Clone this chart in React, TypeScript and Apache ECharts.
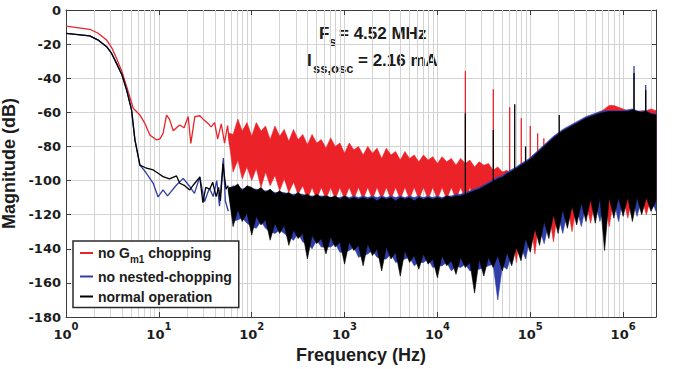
import React, { useEffect, useRef } from "react";
import * as echarts from "echarts";

// ---------- data ----------
const redLowFreq = [1, 1.8, 2.2, 2.74, 3.1, 3.5, 4, 4.5, 5.3, 6.25, 7, 8, 9.45, 10.3, 11.1, 12.1, 13, 14.3, 15.5, 16.8, 18.7, 20.7, 22.1, 24.4, 27.6, 30, 33.9, 36.5, 39.8, 43, 47, 51, 55, 58];
const redLowDb = [-9.4, -11.3, -13.5, -17.6, -22, -28.3, -36, -45, -57.6, -61.6, -66, -73.3, -76.2, -75.5, -72.3, -61.6, -64, -70.8, -69, -67.4, -69, -62.5, -78.2, -62.5, -62, -64, -66.5, -68.5, -66, -75.6, -66.8, -78, -67.8, -79];

const blueLowFreq = [1, 1.8, 2.2, 2.74, 3.1, 3.5, 4, 4.5, 5.08, 5.52, 6.25, 7.2, 8.7, 9.8, 11.1, 12.4, 15.5, 18.3, 21.5, 24.2, 27.6, 31, 35, 38.5, 42, 45, 49.5, 52, 56];
const blueLowDb = [-13.7, -15.2, -17.5, -21.5, -25.5, -31.3, -38, -47, -58.6, -76, -91, -95, -101.6, -109.6, -105.5, -109, -102.6, -98.7, -103.5, -107.5, -97.7, -112.4, -104.5, -109.4, -100, -115, -86.8, -112, -118];

const blackLowFreq = [1, 1.8, 2.2, 2.74, 3.1, 3.5, 4, 4.5, 5.08, 5.52, 6.25, 7.2, 8.7, 10, 11.1, 13, 15.5, 16.8, 19, 21.5, 24, 27.6, 29.8, 32, 35.4, 38, 41.4, 44, 46, 49.2, 51, 53, 56];
const blackLowDb = [-13.7, -15.2, -17.5, -21.5, -25.5, -31.3, -38, -47, -58.6, -76, -91, -92.5, -93.8, -96, -97.7, -99, -97.3, -101.6, -103, -105.5, -102, -98, -113, -104, -105, -101, -109.4, -104, -112, -90, -98, -105, -103];

// dense noise region: envelope of each trace (Hz, dB)
const noiseFreq = [56, 63, 71, 79, 89, 100, 112, 126, 141, 158, 178, 200, 224, 251, 282, 316, 355, 398, 447, 501, 562, 631, 708, 794, 891, 1000, 1122, 1259, 1413, 1585, 1778, 1995, 2239, 2512, 2818, 3162, 3548, 3981, 4467, 5012, 5623, 6310, 7079, 7943, 8913, 10000, 11220, 12589, 14125, 15849, 17783, 19953, 22387, 25119, 28184, 31623, 35481, 39811, 44668, 50119, 56234, 63096, 70795, 79433, 89125, 100000, 112202, 125893, 141254, 158489, 177828, 199526, 223872, 251189, 281838, 316228, 354813, 398107, 446684, 501187, 562341, 630957, 707946, 794328, 891251, 1000000, 1122018, 1258925, 1412538, 1584893, 1778279, 1995262, 2260000];

const redUpper = [
  -72, -73, -64, -71, -66, -74, -66, -71, -68, -76,
  -68, -74, -70, -77, -70, -76, -73, -79, -73, -78,
  -76, -81, -75, -80, -78, -84, -78, -82, -80, -85,
  -80, -84, -81, -87, -81, -85, -83, -88, -83, -87,
  -85, -89, -85, -88, -86, -90, -86, -89, -87, -91,
  -87, -90, -88, -92, -89, -91, -90, -94, -92, -95,
  -94, -97, -95, -97, -94, -95, -91, -90, -86, -84,
  -80, -78, -74, -72, -70, -68, -66, -65, -63, -62,
  -60, -58, -56, -56, -57, -58, -59, -60, -60, -59,
  -59, -58, -59];
const redLower = [
  -74, -95, -88, -99, -92, -100, -93, -104, -95, -103,
  -97, -106, -99, -107, -101, -108, -103, -111, -104, -111,
  -104, -111, -104, -111, -104, -111, -104, -111, -104, -111,
  -104, -111, -104, -111, -104, -111, -104, -111, -104, -111,
  -104, -111, -104, -111, -104, -111, -104, -111, -104, -111,
  -104, -111, -104, -111, -104, -111, -104, -111, -104, -118,
  -139, -128, -148, -126, -130, -122, -143, -120, -122, -118,
  -136, -116, -118, -114, -130, -113, -114, -112, -125, -111,
  -111, -110, -127, -110, -110, -110, -122, -110, -110, -110,
  -120, -110, -112];

const blueUpper = [
  -105, -103, -104, -105, -104, -105, -105, -106, -106, -106,
  -107, -107, -107, -108, -108, -108, -108, -109, -109, -109,
  -109, -109, -110, -110, -110, -109, -110, -109, -110, -109,
  -110, -109, -110, -109, -110, -109, -110, -109, -110, -109,
  -110, -109, -110, -109, -110, -109, -110, -109, -109, -108,
  -108, -107, -106, -105, -104, -102.5, -101, -99.5, -98, -97,
  -95, -93.5, -92, -90, -88.5, -86.5, -84, -81.5, -79, -76.5,
  -74, -72, -70, -68.5, -67, -65.5, -64, -62.5, -61.5, -60.5,
  -59.5, -59, -59, -59, -59, -59, -58.5, -58, -59, -59.5,
  -59, -60.5, -61];
const blueLower = [
  -106, -124, -123, -122, -125, -127, -128, -124, -128, -130,
  -131, -129, -131, -133, -135, -131, -136, -137, -140, -135,
  -139, -139, -139, -137, -142, -142, -141, -139, -145, -144,
  -143, -141, -145, -146, -146, -143, -148, -147, -146, -145,
  -150, -148, -148, -146, -151, -150, -150, -148, -153, -150,
  -151, -149, -153, -152, -152, -151, -150, -149, -170, -150,
  -152, -143, -140, -139, -146, -133, -130, -128, -137, -124,
  -121, -120, -131, -118, -116, -116, -127, -114, -112, -112,
  -124, -112, -111, -111, -124, -111, -111, -111, -121, -111,
  -111, -111, -118];

const blackUpper = [
  -104, -104, -102, -106, -103, -104, -106, -104, -107, -105,
  -108, -106, -108, -107, -109, -107, -109, -108, -110, -108,
  -110, -109, -110, -109, -111, -109, -111, -110, -111, -110,
  -111, -110, -112, -110, -111, -110, -112, -110, -111, -110,
  -112, -110, -111, -110, -111, -110, -111, -109, -110, -109,
  -109, -108, -107, -106, -105, -103.5, -102, -100.5, -99, -98,
  -96, -94.5, -93, -91, -89.5, -87.5, -85, -82.5, -80, -77.5,
  -75, -73, -71, -69.5, -68, -66.5, -65, -63.5, -62.5, -61.5,
  -60.5, -60, -59.5, -59.5, -59.5, -59.5, -59.5, -58.5, -59.5, -60,
  -59.5, -61, -61.5];
const blackLower = [
  -106, -127, -117, -124, -119, -132, -121, -126, -123, -135,
  -125, -131, -126, -138, -129, -134, -131, -146, -132, -137,
  -134, -143, -133, -139, -136, -149, -136, -141, -138, -150,
  -137, -144, -140, -153, -139, -146, -142, -156, -141, -148,
  -144, -152, -143, -149, -146, -157, -144, -150, -147, -155,
  -145, -151, -148, -166, -146, -156, -145, -151, -144, -153,
  -142, -150, -139, -147, -134, -142, -128, -138, -124, -134,
  -120, -131, -117, -128, -115, -126, -113, -124, -111, -125,
  -110, -141, -110, -122, -110, -121, -110, -124, -110, -120,
  -110, -118, -112];

// discrete tones (Hz, peak dB, foot dB)
const redToneFreq = [20000, 40000, 60000, 80000, 100000, 120000, 140000];
const redToneTop = [-35.8, -46.5, -57, -63.5, -68, -72.3, -75.2];
const redToneBase = [-95, -97, -97, -97, -95, -91, -86];
const blueToneFreq = [1310000, 1750000];
const blueToneTop = [-32.8, -44];
const blueToneBase = [-62, -62];
const blackToneFreq = [20000, 40000, 68000, 89000, 205000, 1310000, 1750000];
const blackToneTop = [-60.6, -70.4, -55.3, -80, -61.6, -37, -47];
const blackToneBase = [-112, -104, -98, -92, -78, -62, -62];

const seriesNames = ["no Gm1 chopping", "no nested-chopping", "normal operation"];
const yTicks = { min: -180, max: 0, step: 20 };
const xRange = { min: 1, max: 2.26e6 };

// ---------- styling ----------
const FONT = 'Arial, "Liberation Sans", Helvetica, sans-serif';
const TFONT = '"DejaVu Sans", Verdana, sans-serif';
const RED = "#ec2229";
const BLUE = "#2f3ea8";
const BLACK = "#000000";
const GRID = "#d3d3d3";
const FRAME = "#3c3c3c";
const TXT = "#1c1c1c";

function pairs(f: number[], v: number[]) {
  return f.map((x, i) => [x, v[i]]);
}

function bandSeries(name: string, upper: number[], lower: number[], color: string) {
  return {
    type: "custom",
    name,
    silent: true,
    data: noiseFreq.map((f, i) => [f, upper[i], lower[i]]),
    encode: { x: 0, y: [1, 2] },
    renderItem: (params: any, api: any) => {
      if (params.dataIndex !== 0) return null;
      const top = noiseFreq.map((f, i) => api.coord([f, upper[i]]));
      const bot = noiseFreq.map((f, i) => api.coord([f, lower[i]])).reverse();
      return {
        type: "polygon",
        shape: { points: top.concat(bot) },
        style: { fill: color, stroke: color, lineWidth: 0.6 },
      };
    },
  };
}

function toneSeries(name: string, freqs: number[], tops: number[], bases: number[], color: string) {
  return {
    type: "custom",
    name,
    silent: true,
    data: freqs.map((f, i) => [f, tops[i], bases[i]]),
    encode: { x: 0, y: [1, 2] },
    renderItem: (params: any, api: any) => {
      const p1 = api.coord([api.value(0), api.value(1)]);
      const p2 = api.coord([api.value(0), api.value(2)]);
      return {
        type: "line",
        shape: { x1: p1[0], y1: p1[1], x2: p2[0], y2: p2[1] },
        style: { stroke: color, lineWidth: 1.3 },
      };
    },
  };
}

function lineSeries(name: string, f: number[], v: number[], color: string) {
  return {
    type: "line",
    name,
    color,
    data: pairs(f, v),
    showSymbol: false,
    symbol: "none",
    silent: true,
    lineStyle: { color, width: 1.3 },
  };
}

function annoText(x: number, y: number, text: string, size: number) {
  return {
    type: "text",
    x,
    y,
    style: {
      text,
      font: `bold ${size}px ${FONT}`,
      fill: TXT,
      align: "left",
      textAlign: "left",
      verticalAlign: "middle",
      textVerticalAlign: "middle",
    },
  };
}

export default function App() {
  const ref = useRef<HTMLDivElement>(null);

  useEffect(() => {
    document.body.style.margin = "0";
    const chart = echarts.init(ref.current as HTMLDivElement, null, { renderer: "svg" });

    const minorGrid: number[] = [];
    for (let d = 0; d <= 6; d++) {
      for (let m = 2; m <= 9; m++) {
        const v = m * Math.pow(10, d);
        if (v < xRange.max) minorGrid.push(v);
      }
    }

    const xLabel = (v: number) => {
      const e = Math.log10(v);
      const r = Math.round(e);
      if (Math.abs(e - r) > 1e-6) return "";
      return `{b|10}{s|${r}}`;
    };

    const option: any = {
      animation: false,
      backgroundColor: "#ffffff",
      grid: { left: 66, right: 17, top: 10, bottom: 52, containLabel: false, outerBoundsMode: "none" },
      xAxis: [
        {
          type: "log",
          logBase: 10,
          min: xRange.min,
          max: xRange.max,
          splitNumber: 6,
          axisLine: { show: true, onZero: false, lineStyle: { color: FRAME, width: 1 } },
          axisTick: { show: true, inside: true, length: 5, lineStyle: { color: FRAME } },
          axisLabel: {
            margin: 4,
            formatter: xLabel,
            rich: {
              b: { fontSize: 13, fontWeight: "bold", fontFamily: TFONT, color: TXT },
              s: { fontSize: 10, fontWeight: "bold", fontFamily: TFONT, color: TXT, padding: [0, 0, 17, 0] },
            },
          },
          splitLine: { show: true, lineStyle: { color: GRID, width: 1 } },
          name: "Frequency (Hz)",
          nameLocation: "middle",
          nameGap: 25,
          nameTextStyle: { fontSize: 18, fontWeight: "bold", fontFamily: FONT, color: TXT, verticalAlign: "top" },
        },
        {
          type: "log",
          logBase: 10,
          min: xRange.min,
          max: xRange.max,
          splitNumber: 6,
          position: "top",
          axisLine: { show: true, onZero: false, lineStyle: { color: FRAME, width: 1 } },
          axisTick: { show: true, inside: true, length: 5, lineStyle: { color: FRAME } },
          axisLabel: { show: false },
          splitLine: { show: false },
        },
      ],
      yAxis: [
        {
          type: "value",
          min: yTicks.min,
          max: yTicks.max,
          interval: yTicks.step,
          axisLine: { show: true, onZero: false, lineStyle: { color: FRAME, width: 1 } },
          axisTick: { show: true, inside: true, length: 5, lineStyle: { color: FRAME } },
          axisLabel: { margin: 5, fontSize: 13, fontWeight: "bold", fontFamily: TFONT, color: TXT },
          splitLine: { show: true, lineStyle: { color: GRID, width: 1 } },
          name: "Magnitude (dB)",
          nameLocation: "middle",
          nameGap: 38,
          nameTextStyle: { fontSize: 18, fontWeight: "bold", fontFamily: FONT, color: TXT },
        },
        {
          type: "value",
          min: yTicks.min,
          max: yTicks.max,
          interval: yTicks.step,
          position: "right",
          axisLine: { show: true, onZero: false, lineStyle: { color: FRAME, width: 1 } },
          axisTick: { show: true, inside: true, length: 5, lineStyle: { color: FRAME } },
          axisLabel: { show: false },
          splitLine: { show: false },
        },
      ],
      legend: {
        data: seriesNames.map((n) => ({ name: n })),
        orient: "vertical",
        left: 73,
        top: 241,
        icon: "rect",
        itemWidth: 13,
        itemHeight: 2,
        itemGap: 4,
        padding: [4, 7, 3, 7],
        borderColor: "#2a2a2a",
        borderWidth: 1.5,
        backgroundColor: "#ffffff",
        selectedMode: false,
        formatter: (name: string) => (name === seriesNames[0] ? "no G{sub|m1} chopping" : name),
        textStyle: {
          fontSize: 14,
          fontWeight: "bold",
          fontFamily: FONT,
          color: TXT,
          lineHeight: 16,
          rich: {
            sub: { fontSize: 10, fontWeight: "bold", fontFamily: FONT, color: TXT, padding: [13, 0, 0, 0] },
          },
        },
      },
      graphic: [
        annoText(319, 33, "F", 17),
        annoText(329, 41, "s", 13),
        annoText(339, 33, "= 4.52 MHz", 17),
        annoText(307, 60, "I", 17),
        annoText(313, 68, "ss,osc", 13),
        annoText(358, 60, "= 2.16 mA", 17),
      ],
      series: [
        {
          type: "line",
          name: "minor-grid",
          data: [],
          silent: true,
          z: 1,
          markLine: {
            silent: true,
            z: 1,
            symbol: ["none", "none"],
            label: { show: false },
            lineStyle: { color: GRID, width: 1, type: "solid" },
            animation: false,
            data: minorGrid.map((v) => ({ xAxis: v })),
          },
        },
        bandSeries("red-band", redUpper, redLower, RED),
        lineSeries(seriesNames[0], redLowFreq, redLowDb, RED),
        toneSeries("red-tones", redToneFreq, redToneTop, redToneBase, RED),
        bandSeries("blue-band", blueUpper, blueLower, BLUE),
        lineSeries(seriesNames[1], blueLowFreq, blueLowDb, BLUE),
        toneSeries("blue-tones", blueToneFreq, blueToneTop, blueToneBase, BLUE),
        bandSeries("black-band", blackUpper, blackLower, BLACK),
        lineSeries(seriesNames[2], blackLowFreq, blackLowDb, BLACK),
        toneSeries("black-tones", blackToneFreq, blackToneTop, blackToneBase, BLACK),
      ],
    };

    chart.setOption(option);
    return () => chart.dispose();
  }, []);

  return <div ref={ref} style={{ width: 673, height: 369, background: "#fff" }} />;
}
